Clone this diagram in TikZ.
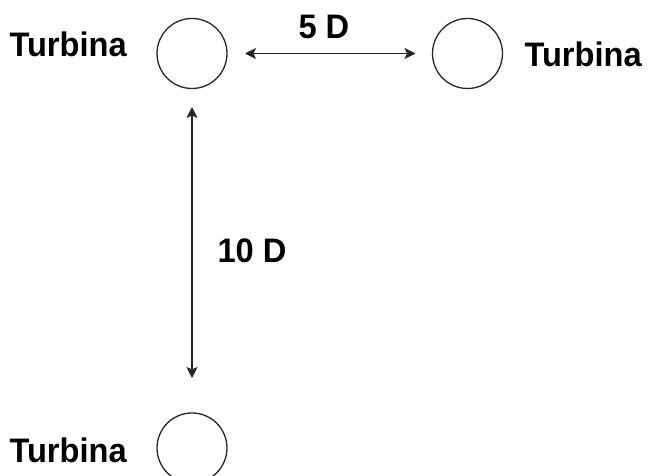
\documentclass[tikz,border=0pt]{standalone}
\usepackage{fontspec}
\setmainfont{Liberation Sans}[FakeStretch=0.96]
\usetikzlibrary{arrows.meta}
\tikzset{
  turbine/.style={circle, draw=black!85, line width=1.3pt, minimum size=70pt, inner sep=0pt, outer sep=0pt},
  lbl/.style={inner sep=0pt, outer sep=0pt, font=\fontsize{34}{37}\selectfont\bfseries, text=black},
  spacing/.style={draw=black!85, line width=1.3pt, {Stealth[length=11pt,width=11pt,inset=2.5pt]}-{Stealth[length=11pt,width=11pt,inset=2.5pt]}}
}
\begin{document}
\begin{tikzpicture}[x=1pt,y=-1pt]
  \useasboundingbox (0,0) rectangle (649,476);
  % turbines
  \node[turbine] (t1) at (192,53.5) {};
  \node[turbine] (t2) at (467.5,53.5) {};
  \node[turbine] (t3) at (192,448) {};
  % names
  \node[lbl, anchor=base west] (n1) at (9.5,57) {Turbina};
  \node[lbl, anchor=base west] (n2) at (524.5,67) {Turbina};
  \node[lbl, anchor=base west] (n3) at (9.5,462) {Turbina};
  % spacings
  \draw[spacing, shorten <=18pt, shorten >=17pt] (t1.east) -- (t2.west);
  \draw[spacing, shorten <=18.5pt, shorten >=35pt] (t1.south) -- (t3.north);
  \node[lbl, anchor=base west] (d5) at (298.5,39) {5 D};
  \node[lbl, anchor=base west] (d10) at (217.5,263) {10 D};
\end{tikzpicture}
\end{document}
